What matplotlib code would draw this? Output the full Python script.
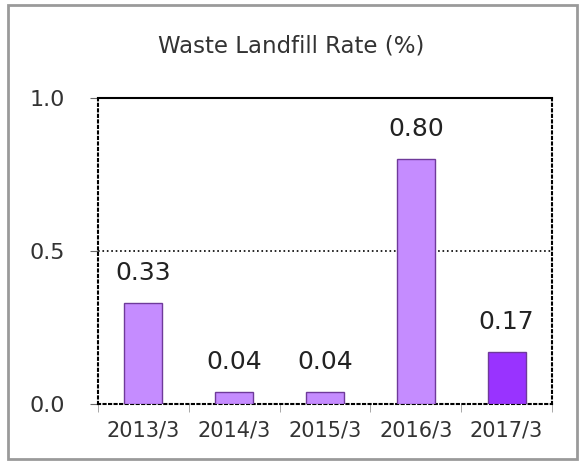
import matplotlib.pyplot as plt
from matplotlib.patches import Rectangle
import numpy as np

categories = ['2013/3', '2014/3', '2015/3', '2016/3', '2017/3']
values = [0.33, 0.04, 0.04, 0.80, 0.17]
labels = ['0.33', '0.04', '0.04', '0.80', '0.17']
colors = ['#C58CFF', '#C58CFF', '#C58CFF', '#C58CFF', '#9933FF']

fig = plt.figure(figsize=(5.82, 4.66), dpi=100)
fig.patches.append(Rectangle((8 / 582, 1 - 459 / 466), 569 / 582, 454 / 466,
                             transform=fig.transFigure, fill=False,
                             edgecolor='#9a9a9a', linewidth=2))
ax = fig.add_axes([98 / 582, 1 - 404 / 466, 454 / 582, 306 / 466])

x = np.arange(len(categories))
ax.bar(x, values, width=0.42, color=colors, edgecolor='#6f3a9a', linewidth=1, zorder=3)
for xi, v, lab in zip(x, values, labels):
    ax.annotate(lab, (xi, v), xytext=(0, 13), textcoords='offset points',
                ha='center', va='bottom', fontsize=18, color='#222222')

ax.set_xlim(-0.5, len(categories) - 0.5)
ax.set_ylim(0, 1.0)
ax.set_yticks([0.0, 0.5, 1.0])
ax.set_yticklabels(['0.0', '0.5', '1.0'], fontsize=16, color='#333333')
ax.axhline(0.5, color='black', linestyle=':', linewidth=1.2, zorder=1)

ax.set_xticks(x)
ax.set_xticklabels(categories, fontsize=15, color='#333333')
ax.tick_params(axis='x', which='major', length=0, pad=12)
ax.set_xticks(np.arange(len(categories) + 1) - 0.5, minor=True)
ax.tick_params(axis='x', which='minor', length=6, color='#999999', direction='out')
ax.tick_params(axis='y', length=6, color='#666666', pad=18)

for side in ['left', 'right', 'bottom']:
    ax.spines[side].set_linestyle(':')
    ax.spines[side].set_linewidth(1.5)
ax.spines['top'].set_linewidth(1.5)

fig.text(291 / 582, 1 - 46 / 466, 'Waste Landfill Rate (%)', ha='center',
         va='center', fontsize=16.5, color='#333333')

fig.savefig('out.png', dpi=100)
